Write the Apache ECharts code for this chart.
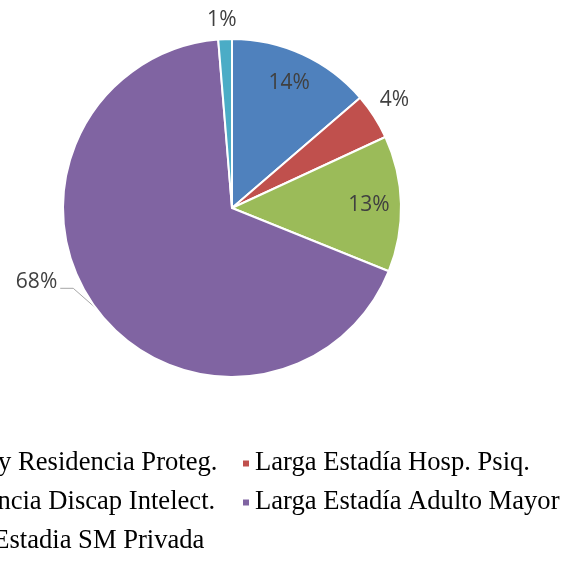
<!DOCTYPE html>
<html style="height: 100%">
<head>
    <meta charset="UTF-8">
    <title>Pie</title>
    <script src="https://cdn.jsdelivr.net/npm/echarts/dist/echarts.min.js"></script>
</head>
<body style="height: 100%; margin: 0; background: #fff">
    <div id="main" style="width: 566px; height: 561px"></div>
    <script type="text/javascript">
        // datos
        var categories = [
            'Hogar y Residencia Proteg.',
            'Larga Estadía Hosp. Psiq.',
            'Residencia Discap Intelect.',
            'Larga Estadía Adulto Mayor',
            'Larga Estadia SM Privada'
        ];
        var values = [13.7, 4.4, 13.0, 67.6, 1.3];
        var colors = ['#4F81BD', '#C0504D', '#9BBB59', '#8064A2', '#4BACC6'];

        var CX = 232, CY = 208, R = 169;
        // labels que van dentro de la torta
        var insideIdx = [0, 2];
        // ajuste fino de etiquetas exteriores [dx, dy]
        var labelShift = { 1: [-12, -8], 3: [-9, -33], 4: [17, -4] };

        var total = values.reduce(function (a, b) { return a + b; }, 0);

        // punto del borde en el angulo medio de la tajada i
        function midEdge(i) {
            var before = 0;
            for (var k = 0; k < i; k++) before += values[k];
            var a = (before + values[i] / 2) / total * 2 * Math.PI;
            return [CX + R * Math.sin(a), CY - R * Math.cos(a)];
        }

        var myChart = echarts.init(document.getElementById('main'));

        var data = categories.map(function (name, i) {
            var inside = insideIdx.indexOf(i) >= 0;
            return {
                name: name,
                value: values[i],
                itemStyle: { color: colors[i] },
                label: { position: inside ? 'inside' : 'outside' },
                labelLine: { show: i === 3, length: i === 3 ? 12 : 15, length2: i === 3 ? 15 : 0 }
            };
        });

        var legendText = { fontFamily: 'Liberation Serif', fontSize: 26.6, lineHeight: 27, color: '#000' };

        var option = {
            animation: false,
            legend: [{
                orient: 'vertical',
                left: -89,
                top: 450,
                padding: 0,
                itemWidth: 8,
                itemHeight: 8,
                itemGap: 12,
                icon: 'rect',
                data: [categories[0], categories[2], categories[4]],
                textStyle: legendText
            }, {
                orient: 'vertical',
                left: 241,
                top: 450,
                padding: 0,
                itemWidth: 8,
                itemHeight: 8,
                itemGap: 12,
                icon: 'rect',
                data: [categories[1], categories[3]],
                textStyle: legendText
            }],
            series: [{
                type: 'pie',
                center: [CX, CY],
                radius: R,
                startAngle: 90,
                clockwise: true,
                percentPrecision: 0,
                avoidLabelOverlap: false,
                itemStyle: { borderColor: '#fff', borderWidth: 2 },
                label: {
                    formatter: '{d}%',
                    fontFamily: 'Open Sans',
                    fontSize: 21,
                    color: '#404040'
                },
                labelLine: { lineStyle: { color: '#a6a6a6', width: 1 }, smooth: false },
                labelLayout: function (p) {
                    var r = p.labelRect;
                    var lx = r.x + r.width / 2, ly = r.y + r.height / 2;
                    if (insideIdx.indexOf(p.dataIndex) >= 0) {
                        var k = 137 / Math.sqrt((lx - CX) * (lx - CX) + (ly - CY) * (ly - CY));
                        return { dx: (lx - CX) * (k - 1), dy: (ly - CY) * (k - 1) };
                    }
                    var s = labelShift[p.dataIndex];
                    if (!s) return {};
                    var out = { dx: s[0], dy: s[1] };
                    if (p.dataIndex === 3) {
                        // linea guia: borde -> quiebre -> etiqueta
                        var endX = r.x + r.width + s[0] + 3;
                        var endY = ly + s[1] + 6;
                        out.labelLinePoints = [midEdge(3), [endX + 13, endY], [endX, endY]];
                    }
                    return out;
                },
                data: data
            }]
        };

        myChart.setOption(option);
    </script>
</body>
</html>
